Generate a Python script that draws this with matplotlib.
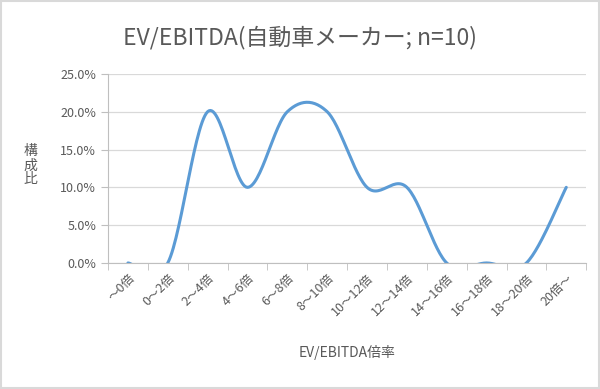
import numpy as np
import matplotlib.pyplot as plt
from matplotlib.ticker import FuncFormatter
from matplotlib.patches import Rectangle

plt.rcParams['font.family'] = ['Noto Sans CJK JP', 'DejaVu Sans']

categories = ['～0倍', '0～2倍', '2～4倍', '4～6倍', '6～8倍', '8～10倍',
              '10～12倍', '12～14倍', '14～16倍', '16～18倍', '18～20倍', '20倍～']
shares = [0.0, 0.0, 20.0, 10.0, 20.0, 20.0, 10.0, 10.0, 0.0, 0.0, 0.0, 10.0]

gray = '#595959'
blue = '#5b9bd5'


def smooth(x, y, n=30):
    # Excel風の平滑線 (Catmull-Rom -> ベジェ)
    x = np.asarray(x, float)
    y = np.asarray(y, float)
    px = np.concatenate([[x[0]], x, [x[-1]]])
    py = np.concatenate([[y[0]], y, [y[-1]]])
    xs, ys = [], []
    t = np.linspace(0, 1, n)
    for i in range(1, len(px) - 2):
        p0 = np.array([px[i - 1], py[i - 1]])
        p1 = np.array([px[i], py[i]])
        p2 = np.array([px[i + 1], py[i + 1]])
        p3 = np.array([px[i + 2], py[i + 2]])
        c1 = p1 + (p2 - p0) / 6
        c2 = p2 - (p3 - p1) / 6
        b = (((1 - t) ** 3)[:, None] * p1 + (3 * (1 - t) ** 2 * t)[:, None] * c1
             + (3 * (1 - t) * t ** 2)[:, None] * c2 + (t ** 3)[:, None] * p2)
        xs.extend(b[:, 0])
        ys.extend(b[:, 1])
    return np.array(xs), np.array(ys)


fig = plt.figure(figsize=(6, 3.89), dpi=100)
fig.patches.append(Rectangle((0.002, 0.003), 0.996, 0.994, transform=fig.transFigure,
                             fill=False, edgecolor='#d9d9d9', linewidth=1.5))
ax = fig.add_axes([0.18, 0.324, 0.797, 0.486])

xpos = np.arange(len(categories))
sx, sy = smooth(xpos, shares)
ax.plot(sx, sy, color=blue, linewidth=2.2, solid_capstyle='round')

ax.set_xlim(-0.5, len(categories) - 0.5)
ax.set_ylim(0, 25)
ax.set_yticks(np.arange(0, 25.1, 5))
ax.yaxis.set_major_formatter(FuncFormatter(lambda v, p: f'{v:.1f}%'))
ax.grid(axis='y', color='#d9d9d9', linewidth=0.9)
ax.set_axisbelow(True)

ax.set_xticks(xpos)
ax.set_xticklabels(categories, rotation=45, ha='right', va='top',
                   rotation_mode='anchor', fontsize=9, color=gray)
ax.set_xticks(np.arange(-0.5, len(categories), 1), minor=True)
ax.tick_params(axis='x', which='major', length=0, pad=6)
ax.tick_params(axis='x', which='minor', length=5, color='#bfbfbf')
ax.tick_params(axis='y', length=5, color='#bfbfbf', labelsize=9, labelcolor=gray)

for s in ['top', 'right']:
    ax.spines[s].set_visible(False)
ax.spines['left'].set_color('#bfbfbf')
ax.spines['bottom'].set_color('#bfbfbf')

fig.text(0.5, 0.903, 'EV/EBITDA(自動車メーカー; n=10)', ha='center', va='center',
         fontsize=16.5, color=gray)
fig.text(0.05, 0.575, '構\n成\n比', ha='center', va='center', fontsize=10,
         color=gray, linespacing=1.0)
fig.text(0.578, 0.095, 'EV/EBITDA倍率', ha='center', va='center', fontsize=10,
         color=gray)

fig.savefig('out.png', dpi=100)
